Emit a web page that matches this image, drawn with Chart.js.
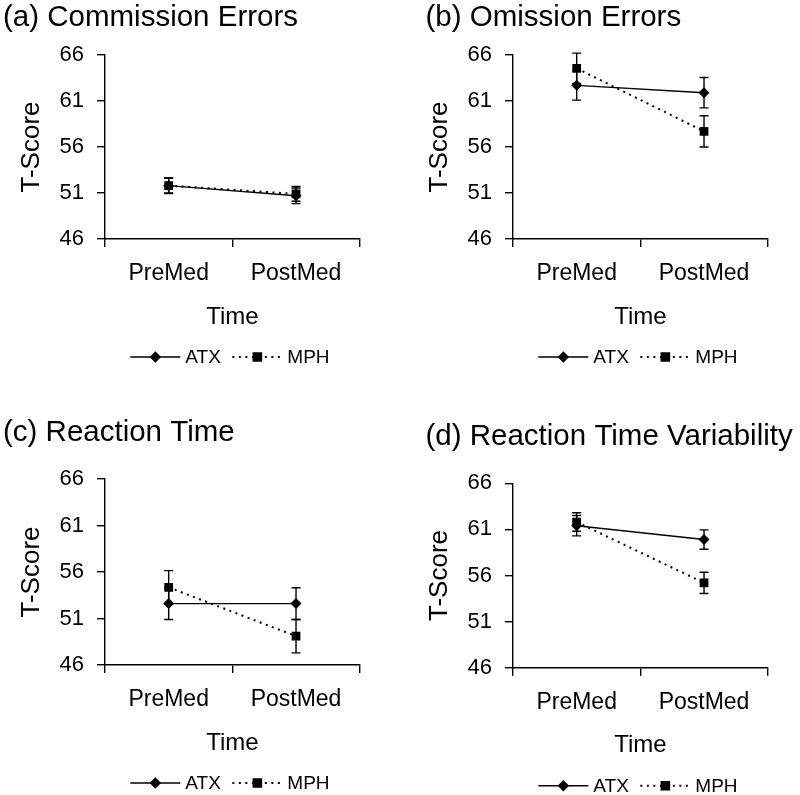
<!DOCTYPE html>
<html>
<head>
<meta charset="utf-8">
<title>CPT T-Scores by medication</title>
<script src="https://cdn.jsdelivr.net/npm/chart.js@4.4.1/dist/chart.umd.min.js"></script>
<style>
    body { margin: 0; background: #fff; }
    canvas { position: absolute; }
</style>
</head>
<body>
<canvas id="panelA" width="400" height="398" style="left:0;top:0"></canvas>
<canvas id="panelB" width="392" height="398" style="left:408px;top:0"></canvas>
<canvas id="panelC" width="400" height="395" style="left:0;top:400px"></canvas>
<canvas id="panelD" width="392" height="395" style="left:408px;top:400px"></canvas>
<script>
const timeLabels = ['PreMed', 'PostMed'];
const yTicks = [46, 51, 56, 61, 66];

// (a) Commission errors
const commissionATX = [51.8, 50.7];
const commissionATXErr = [0.85, 0.85];
const commissionMPH = [51.8, 50.9];
const commissionMPHErr = [0.8, 0.8];

// (b) Omission errors
const omissionATX = [62.7, 61.9];
const omissionATXErr = [1.6, 1.65];
const omissionMPH = [64.55, 57.7];
const omissionMPHErr = [1.65, 1.7];

// (c) Reaction time
const reactionATX = [52.6, 52.6];
const reactionATXErr = [1.7, 1.7];
const reactionMPH = [54.35, 49.1];
const reactionMPHErr = [1.8, 1.8];

// (d) Reaction time variability
const variabilityATX = [61.4, 59.9];
const variabilityATXErr = [1.1, 1.05];
const variabilityMPH = [61.8, 55.2];
const variabilityMPHErr = [1.0, 1.15];

Chart.defaults.font.family = '"Liberation Sans", Arial, sans-serif';
Chart.defaults.color = '#000';

// Vertical error bars with caps, drawn under the markers
const errorBars = {
    id: 'errorBars',
    beforeDatasetsDraw(chart, args, opts) {
        const {ctx, scales: {x, y}} = chart;
        ctx.save();
        ctx.strokeStyle = '#000';
        ctx.lineWidth = 1.4;
        chart.data.datasets.forEach((ds, d) => {
            ds.data.forEach((v, i) => {
                const err = opts.errors[d][i];
                const px = x.getPixelForValue(i);
                const top = y.getPixelForValue(v + err);
                const bot = y.getPixelForValue(v - err);
                ctx.beginPath();
                ctx.moveTo(px, top);
                ctx.lineTo(px, bot);
                ctx.moveTo(px - 4.5, top);
                ctx.lineTo(px + 4.5, top);
                ctx.moveTo(px - 4.5, bot);
                ctx.lineTo(px + 4.5, bot);
                ctx.stroke();
            });
        });
        ctx.restore();
    }
};

// Legend showing line style and marker together, centred under the plot
const lineLegend = {
    id: 'lineLegend',
    afterDraw(chart, args, opts) {
        const {ctx, chartArea} = chart;
        const cx = (chartArea.left + chartArea.right) / 2;
        const cy = chartArea.bottom + opts.offset;
        ctx.save();
        ctx.fillStyle = '#000';
        ctx.strokeStyle = '#000';
        ctx.font = '19px "Liberation Sans", Arial, sans-serif';
        ctx.textBaseline = 'middle';
        chart.data.datasets.forEach((ds, d) => {
            const start = cx - 102 + d * 102;
            ctx.lineWidth = ds.borderWidth;
            ctx.setLineDash(ds.borderDash || []);
            ctx.beginPath();
            ctx.moveTo(start, cy);
            ctx.lineTo(start + 50, cy);
            ctx.stroke();
            ctx.setLineDash([]);
            Chart.helpers.drawPoint(ctx, {
                pointStyle: ds.pointStyle,
                radius: ds.pointRadius - 0.8,
                rotation: 0,
                borderWidth: 1
            }, start + 25, cy);
            ctx.fillText(ds.label, start + 55, cy + 1);
        });
        ctx.restore();
    }
};

const panels = [
    {
        id: 'panelA', title: '(a) Commission Errors',
        atx: commissionATX, atxErr: commissionATXErr, mph: commissionMPH, mphErr: commissionMPHErr,
        padLeft: 3, titleTop: 0, plotTop: 55, plotBottom: 239
    },
    {
        id: 'panelB', title: '(b) Omission Errors',
        atx: omissionATX, atxErr: omissionATXErr, mph: omissionMPH, mphErr: omissionMPHErr,
        padLeft: 17.5, titleTop: 0, plotTop: 55, plotBottom: 239
    },
    {
        id: 'panelC', title: '(c) Reaction Time',
        atx: reactionATX, atxErr: reactionATXErr, mph: reactionMPH, mphErr: reactionMPHErr,
        padLeft: 3, titleTop: 15, plotTop: 79, plotBottom: 265
    },
    {
        id: 'panelD', title: '(d) Reaction Time Variability',
        atx: variabilityATX, atxErr: variabilityATXErr, mph: variabilityMPH, mphErr: variabilityMPHErr,
        padLeft: 17.5, titleTop: 19, plotTop: 83.3, plotBottom: 267.7
    }
];

const plotLeft = 105;
const plotRight = 359.7;
const xAxisHeight = 92.4;
const titleSize = 29.5;

panels.forEach(p => {
    const canvas = document.getElementById(p.id);
    const titleLine = titleSize * 1.2;

    new Chart(canvas.getContext('2d'), {
        type: 'line',
        data: {
            labels: timeLabels,
            datasets: [
                {
                    label: 'ATX',
                    data: p.atx,
                    borderColor: '#000',
                    backgroundColor: '#000',
                    borderWidth: 1.4,
                    pointStyle: 'rectRot',
                    pointRadius: 5.5,
                    pointBorderWidth: 0,
                    tension: 0
                },
                {
                    label: 'MPH',
                    data: p.mph,
                    borderColor: '#000',
                    backgroundColor: '#000',
                    borderWidth: 2,
                    borderDash: [2, 4.5],
                    pointStyle: 'rect',
                    pointRadius: 6.2,
                    pointBorderWidth: 0,
                    tension: 0
                }
            ]
        },
        options: {
            responsive: false,
            animation: false,
            events: [],
            layout: {
                padding: {
                    left: p.padLeft,
                    right: 0,
                    top: 0,
                    bottom: canvas.height - p.plotBottom - xAxisHeight
                }
            },
            plugins: {
                legend: { display: false },
                tooltip: { enabled: false },
                title: {
                    display: true,
                    text: p.title,
                    align: 'start',
                    color: '#000',
                    font: { size: titleSize, weight: 'normal' },
                    padding: { top: p.titleTop, bottom: p.plotTop - p.titleTop - titleLine }
                },
                errorBars: { errors: [p.atxErr, p.mphErr] },
                lineLegend: { offset: 118 }
            },
            scales: {
                x: {
                    type: 'category',
                    offset: true,
                    grid: {
                        offset: true,
                        drawOnChartArea: false,
                        drawTicks: true,
                        tickLength: 8,
                        color: '#000',
                        lineWidth: 1.4
                    },
                    border: { display: true, color: '#000', width: 1.4 },
                    ticks: {
                        font: { size: 23 },
                        padding: 13.3,
                        maxRotation: 0
                    },
                    title: {
                        display: true,
                        text: 'Time',
                        font: { size: 24 },
                        padding: { top: 0, bottom: 0 }
                    },
                    afterFit(scale) {
                        scale.height = xAxisHeight;
                    }
                },
                y: {
                    min: 46,
                    max: 66,
                    grid: {
                        drawOnChartArea: false,
                        drawTicks: true,
                        tickLength: 8,
                        color: '#000',
                        lineWidth: 1.4
                    },
                    border: { display: true, color: '#000', width: 1.4 },
                    ticks: {
                        font: { size: 22 },
                        padding: 13
                    },
                    title: {
                        display: true,
                        text: 'T-Score',
                        font: { size: 26 },
                        padding: { top: 31.5 - p.padLeft - 15.6, bottom: 0 }
                    },
                    afterBuildTicks(scale) {
                        scale.ticks = yTicks.map(v => ({ value: v }));
                    },
                    afterFit(scale) {
                        scale.width = plotLeft - p.padLeft;
                    }
                },
                // empty right-hand axis that only reserves the blank margin,
                // so the panel title can still use the full canvas width
                spacer: {
                    type: 'linear',
                    position: 'right',
                    display: true,
                    grid: { display: false },
                    border: { display: false },
                    ticks: { display: false },
                    afterFit(scale) {
                        scale.width = canvas.width - plotRight;
                    }
                }
            }
        },
        plugins: [errorBars, lineLegend]
    });
});
</script>
</body>
</html>
